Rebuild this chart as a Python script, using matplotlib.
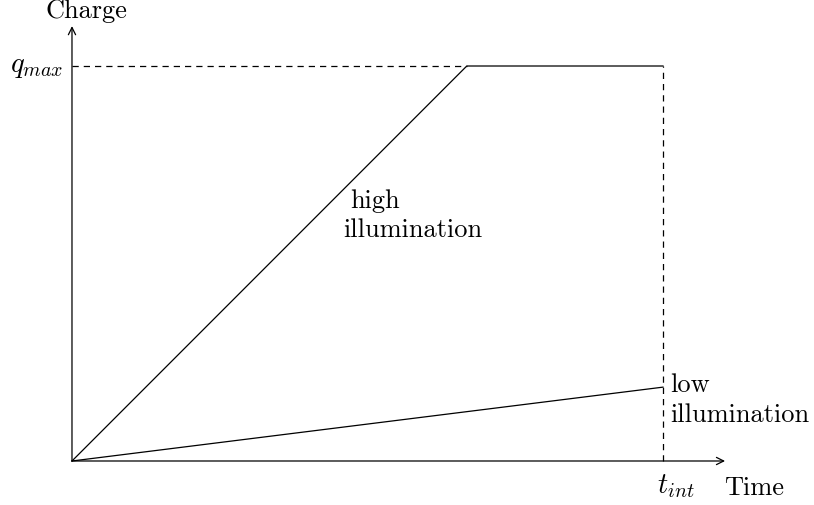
import matplotlib
matplotlib.use("Agg")
import matplotlib.pyplot as plt

plt.rcParams['mathtext.fontset'] = 'cm'
plt.rcParams['font.family'] = ['cmr10', 'DejaVu Serif']
plt.rcParams['axes.formatter.use_mathtext'] = True

# data (time in units of t_int, charge in units of q_max)
high_t = [0.0, 0.668, 1.0]
high_q = [0.0, 1.0, 1.0]
low_t = [0.0, 1.0]
low_q = [0.0, 0.187]
t_int = 1.0
q_max = 1.0
x_axis_end = 1.105
y_axis_end = 1.101

fig = plt.figure(figsize=(8.14, 5.05), dpi=100)
ax = fig.add_axes([0, 0, 1, 1])
ax.set_xlim(-0.1218, 1.2555)
ax.set_ylim(-0.1114, 1.1671)
ax.axis('off')

lw = 0.9
ax.plot(high_t, high_q, color='black', lw=lw)
ax.plot(low_t, low_q, color='black', lw=lw)
ax.plot([0, high_t[1]], [q_max, q_max], color='black', lw=lw, ls=(0, (5, 4)))
ax.plot([t_int, t_int], [0, q_max], color='black', lw=lw, ls=(0, (5, 4)))

arrow = dict(arrowstyle='->', color='black', lw=lw, shrinkA=0, shrinkB=0,
             mutation_scale=13)
ax.annotate('', xy=(x_axis_end, 0), xytext=(0, 0), arrowprops=arrow)
ax.annotate('', xy=(0, y_axis_end), xytext=(0, 0), arrowprops=arrow)

fs = 19
fm = 20.5
ax.text(0.0237, 1.1215, 'Charge', ha='center', va='baseline', fontsize=fs)
ax.text(1.104, -0.086, 'Time', ha='left', va='baseline', fontsize=fs)
ax.text(1.021, -0.081, r'$t_{int}$', ha='center', va='baseline', fontsize=fm)
ax.text(-0.015, 0.985, r'$q_{max}$', ha='right', va='baseline', fontsize=fm)
ax.text(0.4704, 0.640, 'high', ha='left', va='baseline', fontsize=fs)
ax.text(0.4585, 0.5671, 'illumination', ha='left', va='baseline', fontsize=fs)
ax.text(1.0118, 0.1747, 'low', ha='left', va='baseline', fontsize=fs)
ax.text(1.0118, 0.0987, 'illumination', ha='left', va='baseline', fontsize=fs)

fig.savefig('out.png', dpi=100)
